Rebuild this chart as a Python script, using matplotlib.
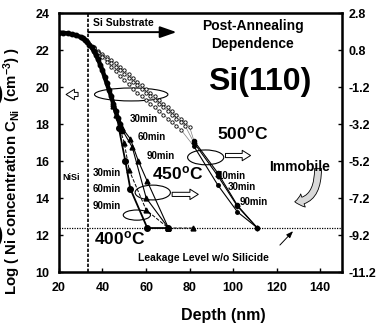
import numpy as np
import matplotlib
matplotlib.use("Agg")
import matplotlib.pyplot as plt
from matplotlib.patches import Ellipse, FancyArrowPatch

plt.rcParams['font.family'] = ['Liberation Sans', 'DejaVu Sans']
plt.rcParams['font.weight'] = 'bold'
plt.rcParams['axes.labelweight'] = 'bold'
plt.rcParams['mathtext.fontset'] = 'custom'
plt.rcParams['mathtext.rm'] = 'Liberation Sans:bold'
plt.rcParams['mathtext.it'] = 'Liberation Sans:bold'
plt.rcParams['mathtext.bf'] = 'Liberation Sans:bold'
plt.rcParams['mathtext.default'] = 'regular'

# as-formed NiSi profile (dense black band)
base_d = [20, 22, 24, 26, 28, 30, 31, 32, 33, 34, 35, 36, 37, 38, 39, 40, 41, 42, 43, 44, 45, 46, 47, 48, 49]
base_v = [22.95, 22.93, 22.9, 22.85, 22.8, 22.7, 22.65, 22.55, 22.45, 22.3, 22.15, 21.95, 21.75, 21.5, 21.2, 20.9, 20.55, 20.2, 19.85, 19.5, 19.1, 18.7, 18.35, 18.0, 17.6]

# 500C dense open-circle profiles
o10_d = [36, 38, 40, 42, 44, 46, 48, 50, 52, 54, 56, 58, 60, 62, 64, 66, 68, 70, 72, 74, 76, 78, 80]
o10_v = [22.15, 21.95, 21.8, 21.65, 21.45, 21.3, 21.1, 20.9, 20.7, 20.5, 20.3, 20.1, 19.9, 19.7, 19.5, 19.3, 19.1, 18.9, 18.7, 18.5, 18.3, 18.1, 17.85]
o30_d = [36, 38, 40, 42, 44, 46, 48, 50, 52, 54, 56, 58, 60, 62, 64, 66, 68, 70, 72, 74, 76, 78]
o30_v = [22.1, 21.9, 21.7, 21.5, 21.3, 21.1, 20.9, 20.7, 20.5, 20.3, 20.1, 19.9, 19.7, 19.5, 19.3, 19.1, 18.9, 18.7, 18.5, 18.3, 18.1, 17.9]
o90_d = [36, 38, 40, 42, 44, 46, 48, 50, 52, 54, 56, 58, 60, 62, 64, 66, 68, 70, 72, 74, 76]
o90_v = [22.1, 21.85, 21.6, 21.35, 21.1, 20.85, 20.6, 20.4, 20.15, 19.9, 19.7, 19.5, 19.3, 19.1, 18.9, 18.7, 18.5, 18.3, 18.1, 17.9, 17.7]

# 500C tail points
t500_d = [82, 93, 102, 111]
t500_10 = [17.1, 15.35, 13.6, 12.4]
t500_30 = [17.0, 15.2, 13.55, 12.4]
t500_90 = [16.8, 14.7, 13.25, 12.4]

# 450C (triangles)
c450_30_d = [45, 49, 52.8, 56.5, 60.6, 70.3]
c450_30_v = [19.1, 17.8, 17.2, 16.0, 14.9, 12.38]
c450_60_d = [45, 49, 53.7, 60.1, 70.3]
c450_60_v = [19.0, 17.7, 16.75, 14.0, 12.38]
c450_90_d = [46, 50, 52.3, 60.1, 70.3, 81.8]
c450_90_v = [18.5, 17.0, 15.5, 13.35, 12.38, 12.38]

# 400C
c400_d = [47.5, 50.5, 52.8, 60.6, 70.3]
c400_v = [17.8, 16.0, 14.5, 12.38, 12.38]

leak = 12.38
nisi_edge = 33.5

fig = plt.figure(figsize=(3.8, 3.27), dpi=100)
ax = fig.add_axes([0.155, 0.168, 0.745, 0.792])

ax.plot(o10_d + [82], o10_v + [17.1], color='gray', lw=0.5)
ax.plot(o30_d + [82], o30_v + [17.0], color='gray', lw=0.5)
ax.plot(o90_d + [82], o90_v + [16.8], color='gray', lw=0.5)
for d, v in [(o10_d, o10_v), (o30_d, o30_v), (o90_d, o90_v)]:
    ax.plot(d, v, 'o', ms=2.4, mfc='white', mec='black', mew=0.6)

ax.plot(t500_d, t500_10, '-o', color='black', lw=0.8, ms=3)
ax.plot(t500_d, t500_30, '-D', color='black', lw=0.8, ms=2.5)
ax.plot(t500_d, t500_90, '-o', color='black', lw=0.8, ms=2.5)

ax.plot(c450_30_d, c450_30_v, '-^', color='black', lw=0.8, ms=3.5)
ax.plot(c450_60_d, c450_60_v, '-^', color='black', lw=0.8, ms=3.5)
ax.plot(c450_90_d, c450_90_v, '--^', color='black', lw=0.7, ms=3.5)
ax.plot(c400_d, c400_v, '-o', color='black', lw=1.3, ms=4)

ax.plot(base_d, base_v, '-', color='black', lw=3.2)
ax.plot(base_d, base_v, 'o', color='black', ms=3.2)

ax.axvline(nisi_edge, color='black', ls=(0, (2, 1)), lw=1.2)
ax.axhline(leak, color='black', ls=(0, (1, 1)), lw=0.9)

# ellipses
for (x, y, w, h) in [(53.2, 19.6, 33.7, 0.7), (63.1, 14.3, 16.2, 0.8),
                     (55.8, 13.08, 12.5, 0.55), (87.4, 16.2, 16.6, 0.8)]:
    ax.add_patch(Ellipse((x, y), w, h, fill=False, lw=0.8, color='black'))

# hollow arrows
hollow = dict(arrowstyle="simple,head_width=0.75,head_length=0.6,tail_width=0.3",
              fc='white', ec='black', lw=0.7, shrinkA=0, shrinkB=0, mutation_scale=10)
ax.annotate('', xy=(23.3, 19.6), xytext=(28.8, 19.6), arrowprops=hollow)
ax.annotate('', xy=(84, 14.2), xytext=(72, 14.2), arrowprops=hollow)
ax.annotate('', xy=(108, 16.3), xytext=(96.5, 16.3), arrowprops=hollow)

# Si substrate arrow
ax.annotate('', xy=(74, 22.97), xytext=(nisi_edge, 22.97),
            arrowprops=dict(arrowstyle='-|>,head_width=0.35,head_length=1.0', color='black', lw=1.4,
                            shrinkA=0, shrinkB=0))
ax.text(35.8, 23.45, 'Si Substrate', fontsize=7.5, va='center', ha='left')

ax.text(109.0, 22.8, 'Post-Annealing\nDependence', fontsize=10, ha='center', va='center', linespacing=1.4)
ax.text(112.3, 20.25, 'Si(110)', fontsize=23, ha='center', va='center')

ax.text(52.7, 18.3, '30min', fontsize=7, va='center')
ax.text(56.2, 17.3, '60min', fontsize=7, va='center')
ax.text(60.3, 16.3, '90min', fontsize=7, va='center')
ax.text(35.7, 15.35, '30min', fontsize=7, va='center')
ax.text(35.7, 14.5, '60min', fontsize=7, va='center')
ax.text(35.7, 13.57, '90min', fontsize=7, va='center')
ax.text(21.8, 15.1, 'NiSi', fontsize=6.5, va='center')
ax.text(62.9, 15.35, '450$^{o}$C', fontsize=12.5, va='center')
ax.text(36.0, 11.85, '400$^{o}$C', fontsize=12.5, va='center')
ax.text(92.8, 17.5, '500$^{o}$C', fontsize=12.5, va='center')
ax.text(99.0, 15.2, '10min', fontsize=7, va='center', ha='center')
ax.text(104.0, 14.6, '30min', fontsize=7, va='center', ha='center')
ax.text(109.5, 13.8, '90min', fontsize=7, va='center', ha='center')
ax.text(116.4, 15.7, 'Immobile', fontsize=10, va='center')
ax.text(56.5, 10.75, 'Leakage Level w/o Silicide', fontsize=7.5, va='center')

ax.annotate('', xy=(128.4, 12.32), xytext=(120.6, 11.35),
            arrowprops=dict(arrowstyle='-|>,head_width=0.15,head_length=0.4', color='black', lw=0.7))
ax.add_patch(FancyArrowPatch(posA=(139.0, 15.6), posB=(128.3, 13.8),
                             connectionstyle="angle3,angleA=-90,angleB=0",
                             arrowstyle="simple,head_width=10,head_length=6,tail_width=5",
                             shrinkA=0, shrinkB=0,
                             fc='#d9d9d9', ec='black', lw=0.6))

ax.set_xlim(20, 150)
ax.set_ylim(10, 24)
ax.set_xticks([20, 40, 60, 80, 100, 120, 140])
ax.set_yticks([10, 12, 14, 16, 18, 20, 22, 24])
ax.tick_params(direction='in', labelsize=9, width=1, length=3)
ax.tick_params(axis='y', pad=7)
ax.tick_params(axis='x', pad=7)
for s in ax.spines.values():
    s.set_linewidth(1.8)
ax.set_xlabel('Depth (nm)', fontsize=11.5)
ax.xaxis.set_label_coords(0.58, -0.14)
ax.set_ylabel('Log ( Ni concentration C$_{Ni}$  (cm$^{-3}$) )', fontsize=10.8)
ax.yaxis.set_label_coords(-0.128, 0.39)

ax2 = ax.twinx()
ax2.set_ylim(-11.2, 2.8)
r_ticks = [2.8, 0.8, -1.2, -3.2, -5.2, -7.2, -9.2, -11.2]
ax2.set_yticks(r_ticks)
ax2.set_yticklabels(['%.1f' % t for t in r_ticks])
ax2.tick_params(direction='in', labelsize=9, width=1, length=3, pad=5)

fig.text(-0.004, 0.71, ')', fontsize=16, ha='center', va='center')
fig.text(-0.004, 0.28, ')', fontsize=16, ha='center', va='center')

fig.savefig('out.png', dpi=100)
